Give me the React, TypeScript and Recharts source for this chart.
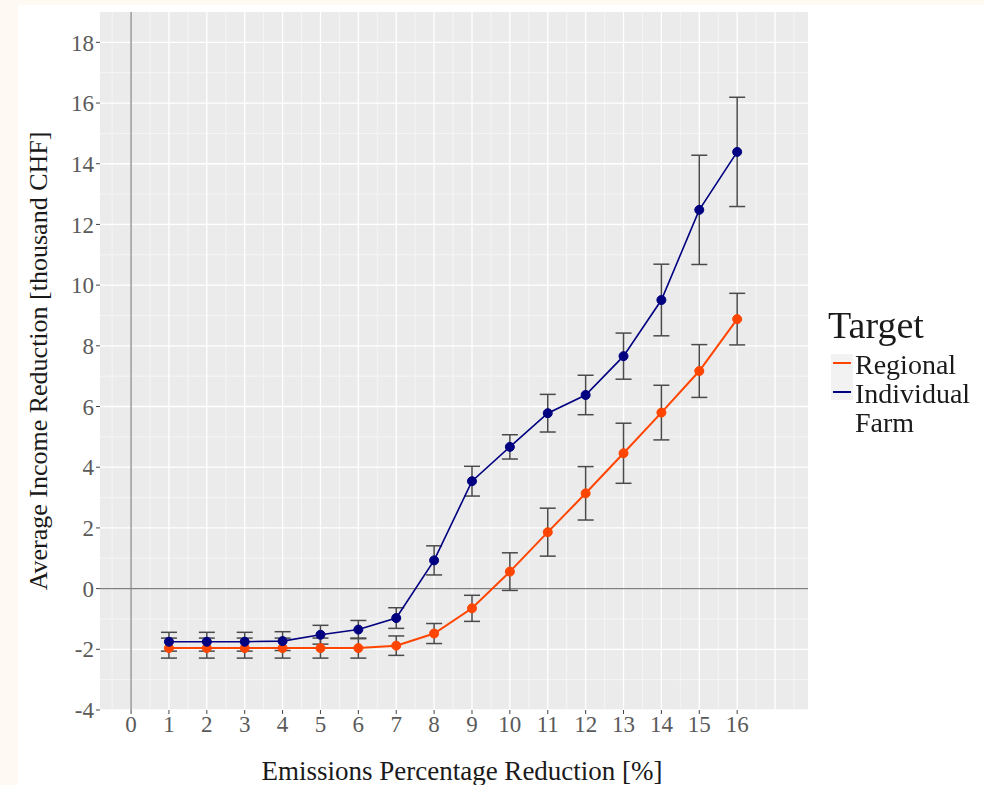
import {
  ComposedChart,
  Line,
  XAxis,
  YAxis,
  CartesianGrid,
  ReferenceLine,
  ErrorBar,
  Legend,
} from 'recharts'

const reductionSteps = [1, 2, 3, 4, 5, 6, 7, 8, 9, 10, 11, 12, 13, 14, 15, 16]

const regionalMean = [-1.96, -1.96, -1.96, -1.96, -1.96, -1.96, -1.88, -1.48, -0.65, 0.56, 1.86, 3.14, 4.46, 5.8, 7.17, 8.88]
const regionalError = [0.33, 0.33, 0.33, 0.33, 0.33, 0.33, 0.32, 0.33, 0.43, 0.62, 0.79, 0.88, 0.99, 0.9, 0.87, 0.85]

const individualMean = [-1.75, -1.75, -1.75, -1.73, -1.52, -1.35, -0.97, 0.93, 3.54, 4.67, 5.78, 6.38, 7.66, 9.51, 12.48, 14.39]
const individualError = [0.31, 0.31, 0.31, 0.31, 0.31, 0.3, 0.34, 0.48, 0.49, 0.4, 0.62, 0.65, 0.76, 1.18, 1.8, 1.8]

const legendOrder = ['Regional', 'Individual Farm']

const xTicks = [0, 1, 2, 3, 4, 5, 6, 7, 8, 9, 10, 11, 12, 13, 14, 15, 16]
const xMinorLines = [-0.5, 0.5, 1.5, 2.5, 3.5, 4.5, 5.5, 6.5, 7.5, 8.5, 9.5, 10.5, 11.5, 12.5, 13.5, 14.5, 15.5, 16.5, 17.5]
const xMajorLines = [0, 1, 2, 3, 4, 5, 6, 7, 8, 9, 10, 11, 12, 13, 14, 15, 16, 17]
const yTicks = [-4, -2, 0, 2, 4, 6, 8, 10, 12, 14, 16, 18]
const yMinorLines = [-3, -1, 1, 3, 5, 7, 9, 11, 13, 15, 17]

const REGIONAL = '#ff4500'
const INDIVIDUAL = '#000080'
const FONT = '"Liberation Serif", "DejaVu Serif", serif'

const chartData = reductionSteps.map((step, i) => ({
  step,
  regional: regionalMean[i],
  regionalErr: regionalError[i],
  individual: individualMean[i],
  individualErr: individualError[i],
}))

const YTitle = (props: any) => {
  const { viewBox } = props
  const cx = 38
  const cy = viewBox.y + viewBox.height / 2
  return (
    <text
      x={cx}
      y={cy}
      transform={`rotate(-90 ${cx} ${cy})`}
      textAnchor="middle"
      dominantBaseline="central"
      fontSize={26}
      fill="#1a1a1a"
      fontFamily={FONT}
    >
      Average Income Reduction [thousand CHF]
    </text>
  )
}

const XTitle = (props: any) => {
  const { viewBox } = props
  return (
    <text
      x={viewBox.x + viewBox.width / 2 + 8}
      y={780}
      textAnchor="middle"
      fontSize={27}
      fill="#1a1a1a"
      fontFamily={FONT}
    >
      Emissions Percentage Reduction [%]
    </text>
  )
}

const TargetLegend = (props: any) => {
  const items = [...(props.payload || [])].sort(
    (a: any, b: any) => legendOrder.indexOf(a.value) - legendOrder.indexOf(b.value),
  )
  return (
    <div style={{ fontFamily: FONT, color: '#1a1a1a' }}>
      <div style={{ fontSize: 38, lineHeight: '42px', marginBottom: 4 }}>Target</div>
      <div style={{ position: 'relative' }}>
        <div
          style={{
            position: 'absolute',
            left: 3,
            top: 4,
            width: 22,
            height: 46,
            background: '#f2f2f2',
          }}
        />
        {items.map((item: any) => (
          <div key={item.value} style={{ display: 'flex', alignItems: 'flex-start', position: 'relative' }}>
            <div style={{ width: 27, height: 24, position: 'relative' }}>
              <div
                style={{
                  position: 'absolute',
                  left: 5,
                  top: 12,
                  width: 18,
                  height: 2,
                  background: item.color,
                }}
              />
            </div>
            <div style={{ fontSize: 28, lineHeight: '29px', width: 132 }}>{item.value}</div>
          </div>
        ))}
      </div>
    </div>
  )
}

export default function App() {
  return (
    <div
      style={{
        position: 'fixed',
        left: 0,
        top: 0,
        width: 984,
        height: 785,
        background: '#fef9f2',
      }}
    >
      <div
        style={{
          position: 'absolute',
          left: 18,
          top: 5,
          width: 966,
          height: 780,
          background: '#ffffff',
        }}
      />
      <div style={{ position: 'absolute', left: 0, top: 0 }}>
        <ComposedChart
          width={984}
          height={785}
          data={chartData}
          margin={{ top: 12, right: 176, bottom: 0, left: 0 }}
          style={{ fontFamily: FONT }}
        >
          <CartesianGrid
            fill="#ebebeb"
            stroke="#f7f7f7"
            strokeWidth={0.8}
            horizontalValues={yMinorLines}
            verticalValues={xMinorLines}
          />
          <CartesianGrid
            stroke="#ffffff"
            strokeWidth={1.3}
            horizontalValues={yTicks}
            verticalValues={xMajorLines}
          />
          <XAxis
            type="number"
            dataKey="step"
            domain={[-0.82, 17.87]}
            ticks={xTicks}
            interval={0}
            allowDataOverflow
            height={75}
            axisLine={false}
            tickLine={{ stroke: '#444', strokeWidth: 1 }}
            tickSize={4}
            tick={{ fill: '#5a5a5a', fontSize: 23, fontFamily: FONT }}
            label={<XTitle />}
          />
          <YAxis
            type="number"
            domain={[-4, 19]}
            ticks={yTicks}
            interval={0}
            allowDataOverflow
            width={100}
            axisLine={false}
            tickLine={{ stroke: '#444', strokeWidth: 1 }}
            tickSize={4}
            tick={{ fill: '#5a5a5a', fontSize: 23, fontFamily: FONT }}
            label={<YTitle />}
          />
          <ReferenceLine x={0} stroke="#808080" strokeWidth={1.2} />
          <ReferenceLine y={0} stroke="#808080" strokeWidth={1.2} />
          <Legend
            layout="vertical"
            align="center"
            verticalAlign="middle"
            wrapperStyle={{ left: 828, top: 304, width: 160 }}
            content={<TargetLegend />}
          />
          <Line
            name="Regional"
            dataKey="regional"
            stroke={REGIONAL}
            strokeWidth={2}
            dot={{ r: 4.5, fill: REGIONAL, stroke: REGIONAL, strokeWidth: 1 }}
            activeDot={false}
            isAnimationActive={false}
          >
            <ErrorBar dataKey="regionalErr" direction="y" width={8} stroke="#4a4a4a" strokeWidth={1.5} isAnimationActive={false} />
          </Line>
          <Line
            name="Individual Farm"
            dataKey="individual"
            stroke={INDIVIDUAL}
            strokeWidth={1.6}
            dot={{ r: 4.5, fill: INDIVIDUAL, stroke: INDIVIDUAL, strokeWidth: 1 }}
            activeDot={false}
            isAnimationActive={false}
          >
            <ErrorBar dataKey="individualErr" direction="y" width={8} stroke="#4a4a4a" strokeWidth={1.5} isAnimationActive={false} />
          </Line>
        </ComposedChart>
      </div>
    </div>
  )
}
